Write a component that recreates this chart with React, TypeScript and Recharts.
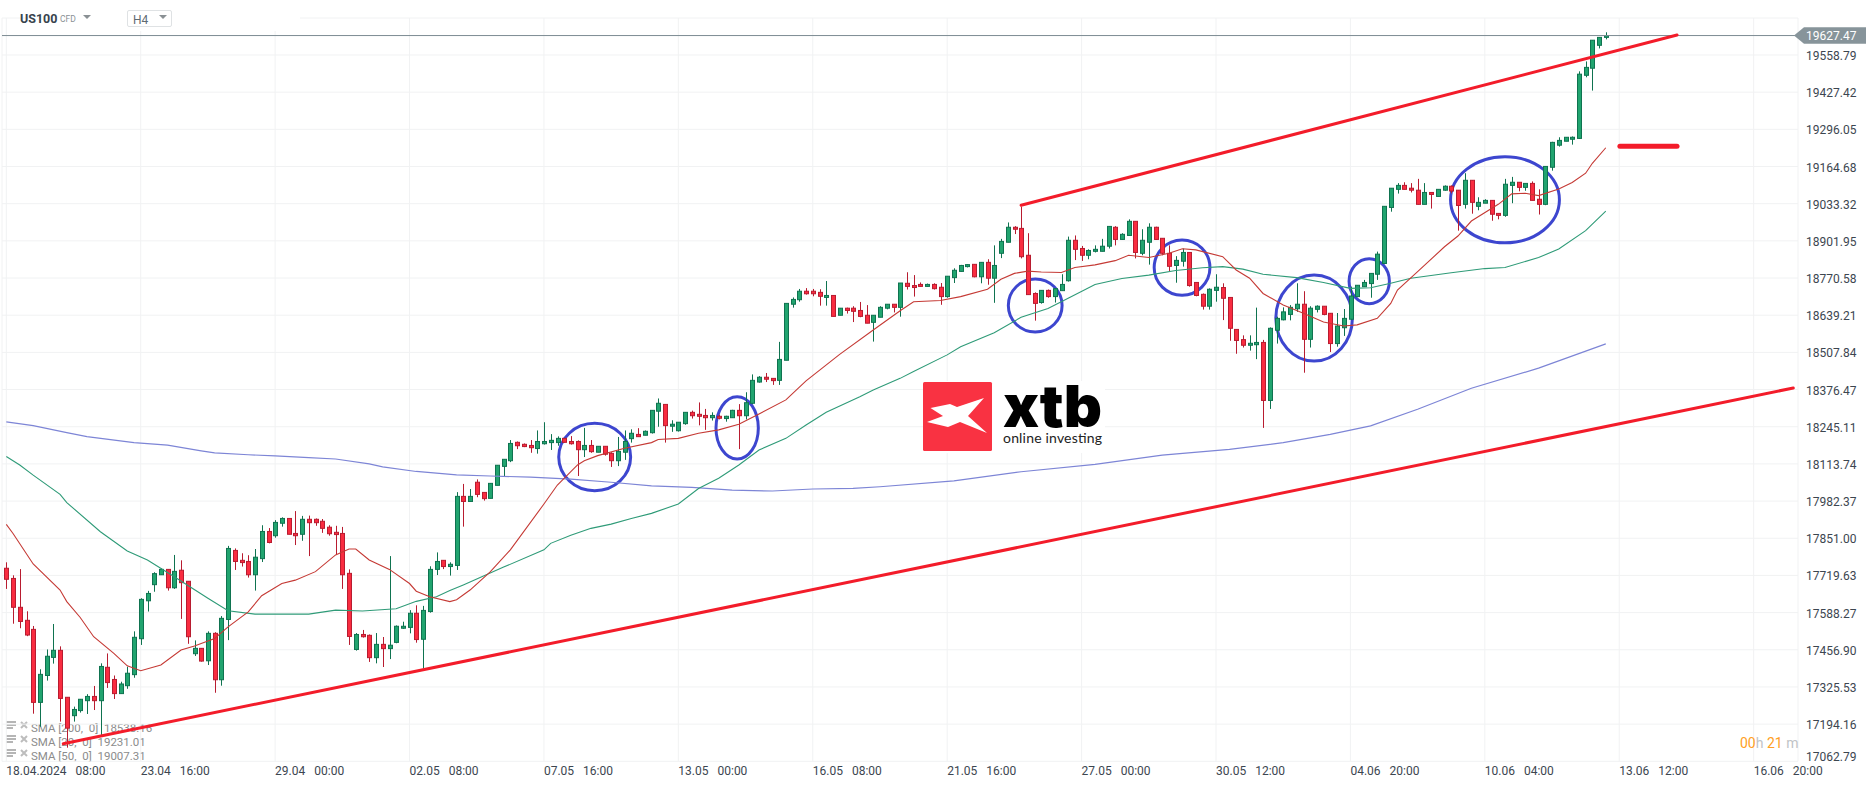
import React from "react";
import { ComposedChart, Bar, Line, XAxis, YAxis, CartesianGrid, ReferenceLine, ReferenceArea } from "recharts";

// [open, high, low, close] per 4h candle
const ohlc: number[][] = [
[17745,17766,17672,17706],[17709,17720,17549,17607],[17607,17742,17533,17557],[17561,17593,17505,17509],[17529,17541,17231,17271],
[17271,17388,17185,17370],[17366,17458,17348,17434],[17430,17548,17408,17455],[17455,17469,17203,17285],[17289,17289,17111,17180],
[17224,17256,17203,17246],[17242,17283,17235,17282],[17277,17300,17230,17292],[17292,17329,17244,17277],[17277,17409,17156,17398],
[17395,17444,17322,17341],[17352,17366,17283,17302],[17302,17344,17302,17336],[17330,17397,17319,17374],[17369,17522,17358,17501],
[17496,17639,17474,17635],[17630,17665,17592,17656],[17687,17731,17662,17726],[17722,17745,17722,17741],[17741,17741,17666,17676],
[17676,17792,17672,17734],[17738,17773,17566,17694],[17699,17699,17478,17503],[17443,17490,17435,17462],[17462,17463,17415,17417],
[17418,17522,17403,17515],[17515,17519,17305,17351],[17351,17576,17330,17568],[17564,17824,17491,17815],[17808,17815,17739,17769],
[17773,17798,17751,17765],[17769,17791,17712,17722],[17722,17813,17666,17784],[17779,17897,17767,17875],[17875,17887,17833,17836],
[17860,17915,17853,17907],[17904,17925,17892,17921],[17921,17921,17865,17865],[17868,17947,17827,17860],[17865,17930,17842,17918],
[17918,17931,17788,17906],[17918,17921,17895,17906],[17911,17919,17870,17886],[17890,17897,17860,17867],[17872,17895,17792,17864],
[17868,17891,17672,17722],[17727,17741,17474,17504],[17458,17516,17454,17511],[17511,17527,17500,17503],[17508,17511,17414,17429],
[17429,17516,17409,17476],[17476,17502,17396,17461],[17461,17788,17424,17473],[17483,17543,17480,17540],[17533,17556,17531,17540],
[17536,17597,17515,17586],[17586,17614,17482,17493],[17494,17612,17391,17596],[17592,17752,17588,17741],[17741,17801,17721,17769],
[17773,17773,17742,17751],[17751,17766,17719,17759],[17755,18014,17739,17999],[17999,18043,17892,17981],[17981,18025,17981,17999],
[18049,18059,17996,18006],[18013,18013,17984,17991],[17992,18045,17992,18045],[18038,18109,18038,18109],[18105,18130,18069,18130],
[18125,18198,18120,18186],[18190,18193,18166,18178],[18183,18186,18173,18175],[18179,18198,18153,18171],[18168,18232,18150,18193],
[18185,18261,18182,18193],[18189,18219,18163,18197],[18189,18211,18178,18204],[18204,18204,18189,18190],[18193,18212,18182,18185],
[18193,18197,18071,18164],[18164,18241,18138,18179],[18179,18198,18153,18157],[18155,18176,18155,18176],[18176,18176,18143,18148],
[18151,18155,18103,18125],[18125,18209,18106,18158],[18155,18232,18128,18193],[18203,18236,18189,18222],[18218,18240,18210,18210],
[18215,18232,18215,18229],[18224,18303,18221,18303],[18300,18345,18245,18328],[18324,18324,18189,18249],[18247,18268,18227,18254],
[18231,18261,18228,18261],[18256,18296,18252,18296],[18296,18302,18274,18284],[18289,18331,18250,18282],[18285,18308,18234,18277],
[18277,18296,18267,18285],[18282,18288,18271,18275],[18274,18284,18263,18282],[18277,18305,18277,18303],[18303,18325,18166,18284],
[18284,18367,18271,18330],[18328,18430,18325,18409],[18403,18424,18401,18420],[18420,18435,18403,18413],[18416,18417,18393,18408],
[18409,18545,18393,18483],[18480,18681,18480,18681],[18678,18702,18666,18695],[18694,18732,18687,18724],[18724,18735,18712,18715],
[18724,18732,18706,18715],[18720,18731,18673,18706],[18702,18760,18673,18709],[18709,18709,18635,18635],[18639,18664,18639,18664],
[18664,18666,18645,18656],[18664,18671,18615,18653],[18656,18686,18632,18635],[18639,18675,18611,18611],[18614,18639,18546,18639],
[18632,18671,18632,18667],[18664,18678,18660,18678],[18678,18678,18649,18667],[18667,18753,18634,18753],[18752,18791,18730,18741],
[18744,18781,18705,18737],[18748,18755,18740,18741],[18741,18751,18740,18748],[18748,18752,18730,18733],[18738,18753,18676,18705],
[18705,18777,18701,18777],[18772,18805,18753,18798],[18794,18817,18793,18815],[18811,18820,18808,18818],[18819,18820,18773,18775],
[18775,18826,18752,18826],[18826,18837,18747,18770],[18770,18886,18683,18815],[18858,18909,18841,18900],[18897,18967,18897,18950],
[18950,18954,18926,18943],[18946,19023,18840,18846],[18851,18929,18712,18712],[18716,18720,18620,18681],[18684,18728,18680,18727],
[18727,18730,18701,18705],[18705,18734,18684,18733],[18726,18784,18726,18748],[18761,18917,18758,18904],[18904,18921,18834,18872],
[18875,18884,18831,18851],[18851,18872,18837,18868],[18865,18886,18861,18872],[18865,18909,18865,18883],[18883,18954,18875,18953],
[18950,18954,18886,18907],[18907,18929,18906,18925],[18921,18978,18920,18971],[18971,18971,18840,18861],[18858,18943,18851,18904],
[18897,18964,18818,18950],[18950,18952,18905,18907],[18911,18911,18851,18858],[18858,18886,18795,18812],[18815,18848,18754,18833],
[18830,18875,18811,18861],[18861,18861,18740,18744],[18755,18755,18706,18709],[18713,18716,18659,18671],[18671,18734,18659,18731],
[18727,18784,18687,18738],[18737,18752,18622,18699],[18702,18702,18549,18593],[18589,18589,18503,18550],[18553,18568,18525,18533],
[18533,18568,18514,18540],[18535,18666,18484,18543],[18543,18552,18241,18338],[18338,18596,18308,18593],[18586,18634,18539,18628],
[18623,18667,18621,18651],[18642,18675,18621,18667],[18662,18752,18651,18678],[18678,18724,18436,18554],[18554,18671,18525,18664],
[18660,18674,18649,18671],[18671,18671,18639,18642],[18646,18647,18509,18539],[18539,18647,18528,18601],[18595,18661,18566,18628],
[18625,18740,18622,18707],[18705,18745,18705,18745],[18740,18764,18740,18755],[18751,18787,18701,18787],[18784,18864,18764,18855],
[18822,19024,18822,19024],[19020,19088,19005,19088],[19084,19106,19069,19098],[19098,19109,19084,19084],[19088,19106,19073,19081],
[19081,19121,19031,19031],[19031,19106,19031,19073],[19073,19073,19016,19066],[19059,19084,19059,19084],[19081,19098,19079,19095],
[19095,19098,19070,19078],[19081,19081,18938,19027],[19031,19141,19016,19116],[19116,19116,18998,19038],[19024,19056,19010,19038],
[19035,19049,19035,19045],[19045,19045,18973,18996],[18999,18999,18978,18992],[18992,19121,18987,19102],[19098,19128,19035,19109],
[19109,19109,19077,19091],[19091,19105,19079,19105],[19105,19112,19045,19045],[19049,19084,18995,19031],[19031,19165,19028,19165],
[19162,19252,19150,19250],[19240,19268,19235,19257],[19254,19268,19254,19268],[19261,19271,19242,19268],[19264,19501,19262,19491],
[19487,19536,19480,19515],[19512,19611,19433,19611],[19593,19621,19582,19621],[19621,19639,19614,19627],
];

// moving-average readings as [candle index, value]
const sma200: number[][] = [[0,18262],[4,18249],[9,18224],[12,18210],[19,18189],[24,18180],[29,18160],[31,18153],[36,18146],[40,18142],[45,18136],[49,18131],[54,18114],[56,18103],[61,18087],[67,18075],[72,18071],[78,18067],[84,18060],[90,18049],[96,18036],[102,18031],[108,18021],[114,18018],[120,18025],[126,18027],[130,18033],[141,18054],[151,18086],[162,18112],[172,18145],[182,18165],[190,18189],[197,18218],[203,18248],[210,18307],[218,18381],[228,18452],[238,18538]];
const sma20: number[][] = [[0,17900],[1,17868],[4,17760],[8,17668],[9,17627],[11,17571],[13,17503],[16,17444],[18,17400],[20,17383],[23,17403],[26,17456],[28,17470],[31,17497],[33,17538],[36,17591],[38,17648],[41,17691],[43,17703],[46,17733],[49,17792],[51,17813],[52,17813],[54,17774],[57,17741],[60,17691],[61,17664],[63,17644],[66,17627],[67,17634],[69,17668],[72,17732],[75,17810],[80,17972],[82,18039],[85,18110],[86,18125],[88,18143],[92,18169],[96,18189],[97,18200],[100,18204],[103,18222],[106,18234],[109,18254],[112,18290],[116,18340],[119,18407],[124,18501],[129,18587],[133,18655],[135,18687],[139,18691],[142,18705],[146,18731],[148,18766],[150,18787],[152,18795],[154,18792],[157,18790],[159,18808],[162,18817],[165,18832],[167,18851],[170,18843],[173,18858],[175,18874],[177,18870],[181,18846],[183,18799],[185,18770],[187,18716],[190,18675],[193,18646],[196,18615],[199,18601],[201,18605],[204,18628],[206,18681],[207,18728],[210,18793],[214,18881],[216,18919],[218,18972],[222,19031],[224,19068],[226,19070],[228,19062],[231,19085],[233,19108],[235,19141],[236,19176],[238,19231]];
const sma50: number[][] = [[0,18140],[2,18110],[4,18074],[8,18006],[9,17977],[14,17874],[18,17806],[21,17774],[25,17715],[30,17639],[33,17595],[37,17583],[45,17583],[49,17597],[53,17594],[58,17602],[61,17628],[64,17644],[66,17666],[68,17686],[74,17749],[80,17810],[81,17833],[84,17862],[87,17886],[90,17901],[93,17921],[96,17939],[100,17972],[103,18027],[106,18063],[109,18110],[112,18163],[116,18204],[119,18251],[122,18296],[127,18351],[129,18375],[133,18416],[135,18440],[140,18499],[142,18528],[147,18577],[151,18632],[155,18663],[158,18699],[162,18748],[166,18769],[170,18781],[174,18797],[178,18807],[181,18811],[184,18802],[187,18784],[192,18772],[196,18755],[200,18734],[203,18736],[206,18752],[209,18770],[215,18789],[220,18804],[223,18808],[228,18843],[231,18873],[235,18938],[238,19007]];

const priceTicks = [17062.79,17194.16,17325.53,17456.90,17588.27,17719.63,17851.00,17982.37,18113.74,18245.11,18376.47,18507.84,18639.21,18770.58,18901.95,19033.32,19164.68,19296.05,19427.42,19558.79];
const timeTicks = [0,20,40,60,80,100,120,140,160,180,200,220,240,260];
const tickDates = ["18.04.2024","23.04","29.04","02.05","07.05","13.05","16.05","21.05","27.05","30.05","04.06","10.06","13.06","16.06"];
const tickTimes = ["08:00","16:00","00:00","08:00","16:00","00:00","08:00","16:00","00:00","12:00","20:00","04:00","12:00","20:00"];

const lastPrice = 19627.47;
// drawn trend lines: [index, price] ends
const lowerTrend = [[8.48,17125],[265.9,18382]];
const upperTrend = [[151,19027.6],[248.6,19629.5]];
const targetMark = [[240.1,19236],[248.6,19236]];
// hand-drawn ellipses: [i1, i2, priceLow, priceHigh]
const ellipses = [
  [82.2,92.9,18019,18257],[105.6,111.9,18131,18351],[149.1,157.1,18580,18767],[170.8,179.1,18710,18905],
  [188.9,200.3,18477,18781],[199.8,205.8,18680,18839],[214.9,231.1,18895,19199],
];
const smaLegend = ["SMA [200,  0]  18538.16","SMA [20,  0]  19231.01","SMA [50,  0]  19007.31"];

const lookup = (k: number[][]) => new Map(k.map(([i, v]) => [i, v]));
const m200 = lookup(sma200), m20 = lookup(sma20), m50 = lookup(sma50);
const rows = ohlc.map(([o, h, l, c], i) => ({ i, o, h, l, c, range: [l, h], s200: m200.get(i), s20: m20.get(i), s50: m50.get(i) }));

const FONT = "Roboto, sans-serif";
const GREEN = "#21a46f", GREEN_D = "#0f7350", RED = "#f92c40", RED_D = "#b81c30";

const Candle = (p: any) => {
  const { x, y, width, height, payload } = p;
  const { o, h, l, c } = payload;
  const up = c >= o;
  const k = h > l ? height / (h - l) : 0;
  const cx = Math.round(x + width / 2) + 0.5;
  const top = y + (h - Math.max(o, c)) * k;
  const bot = y + (h - Math.min(o, c)) * k;
  return (
    <g>
      <line x1={cx} x2={cx} y1={y} y2={y + height} stroke={up ? GREEN_D : RED_D} strokeWidth={1} />
      <rect x={cx - 2} y={top} width={4} height={Math.max(bot - top, 1)} fill={up ? GREEN : RED} stroke={up ? GREEN_D : RED_D} strokeWidth={1} />
    </g>
  );
};

const Ell = (p: any) => (
  <ellipse cx={p.x + p.width / 2} cy={p.y + p.height / 2} rx={p.width / 2} ry={p.height / 2} fill="none" stroke="#3d46cf" strokeWidth={3} />
);

const TimeTick = (p: any) => {
  const idx = timeTicks.indexOf(p.payload.value);
  return (
    <text x={p.x} y={775} fontFamily={FONT} fontSize={12} fill="#3c4650">
      {tickDates[idx]}
      <tspan dx={9}>{tickTimes[idx]}</tspan>
    </text>
  );
};

const PriceAxisTick = (p: any) => {
  const v = p.payload.value;
  const base = v === priceTicks[0] ? p.y : p.y + 5;
  return (
    <text x={1806} y={base} fontFamily={FONT} fontSize={12} fill="#3c4650">{v.toFixed(2)}</text>
  );
};

const PriceTag = (p: any) => {
  const y = p.viewBox.y;
  return (
    <g>
      <polygon points={`1794,${y} 1804,${y - 8.3} 1866,${y - 8.3} 1866,${y + 8.3} 1804,${y + 8.3}`} fill="#87949a" />
      <text x={1806} y={y + 4.5} fontFamily={FONT} fontSize={12} fill="#fff">{lastPrice.toFixed(2)}</text>
    </g>
  );
};

const Caret = ({ x, y }: { x: number; y: number }) => (
  <div style={{ position: "absolute", left: x, top: y, width: 0, height: 0, borderLeft: "4px solid transparent", borderRight: "4px solid transparent", borderTop: "4px solid #8a9094" }} />
);

const seg = (t: number[][]) => [{ x: t[0][0], y: t[0][1] }, { x: t[1][0], y: t[1][1] }];

export default function App() {
  return (
    <div style={{ position: "absolute", left: 0, top: 0, width: 1866, height: 787, overflow: "hidden", background: "#fff", fontFamily: FONT }}>
      {/* SMA legend sits below the chart layer */}
      <svg width={170} height={50} style={{ position: "absolute", left: 0, top: 716 }}>
        {smaLegend.map((t, r) => (
          <g key={t} transform={`translate(0,${r * 14})`}>
            <rect x={6} y={5} width={10} height={2} fill="#b5b5b5" />
            <rect x={6} y={8} width={10} height={2} fill="#b5b5b5" />
            <rect x={6} y={11} width={7} height={2} fill="#b5b5b5" />
            <path d="M21 6 L27 12 M27 6 L21 12" stroke="#bdbdbd" strokeWidth={2} />
            <text x={31} y={16} fontFamily={FONT} fontSize={11.5} fill="#8c8c8c" style={{ whiteSpace: "pre" }}>{t}</text>
          </g>
        ))}
      </svg>
      <div style={{ position: "absolute", left: 0, top: 0 }}>
        <ComposedChart width={1866} height={787} data={rows} margin={{ top: 18, right: 0, bottom: 0, left: 2 }}>
          <CartesianGrid stroke="#f1f2f3" strokeWidth={1} />
          <XAxis dataKey="i" type="number" domain={[-0.64, 266.6]} allowDataOverflow ticks={timeTicks} interval={0} height={25.7} axisLine={false} tickLine={false} tick={<TimeTick />} />
          <YAxis orientation="right" type="number" domain={[17062.79, 19689.5]} allowDataOverflow ticks={priceTicks} interval={0} width={68} axisLine={false} tickLine={false} tick={<PriceAxisTick />} />
          <ReferenceLine y={lastPrice} stroke="#7c8b92" strokeWidth={1} label={<PriceTag />} />
          <Bar dataKey="range" barSize={5} shape={<Candle />} isAnimationActive={false} />
          <Line dataKey="s200" stroke="#7d85d6" strokeWidth={1.2} dot={false} connectNulls isAnimationActive={false} />
          <Line dataKey="s50" stroke="#2f9b78" strokeWidth={1.1} dot={false} connectNulls isAnimationActive={false} />
          <Line dataKey="s20" stroke="#c53a35" strokeWidth={1.1} dot={false} connectNulls isAnimationActive={false} />
          <ReferenceLine segment={seg(lowerTrend)} stroke="#f31c2a" strokeWidth={3} strokeLinecap="round" />
          <ReferenceLine segment={seg(upperTrend)} stroke="#f31c2a" strokeWidth={3} strokeLinecap="round" />
          <ReferenceLine segment={seg(targetMark)} stroke="#f31c2a" strokeWidth={5} strokeLinecap="round" />
          {ellipses.map(([a, b, lo, hi], n) => (
            <ReferenceArea key={n} x1={a} x2={b} y1={lo} y2={hi} shape={<Ell />} />
          ))}
        </ComposedChart>
      </div>

      {/* header */}
      <div style={{ position: "absolute", left: 30, top: 0, width: 270, height: 31, background: "#fff" }} />
      <div style={{ position: "absolute", left: 20, top: 10, fontSize: 12.5, fontWeight: 700, color: "#37434d", lineHeight: "18px" }}>US100</div>
      <div style={{ position: "absolute", left: 60, top: 13, fontSize: 8.5, color: "#8a9094", lineHeight: "12px" }}>CFD</div>
      <Caret x={83} y={15} />
      <div style={{ position: "absolute", left: 127, top: 10, width: 43, height: 15, border: "1px solid #dfe2e4", borderRadius: 2 }} />
      <div style={{ position: "absolute", left: 133, top: 13, fontSize: 12, color: "#5f6b73", lineHeight: "14px" }}>H4</div>
      <Caret x={159} y={15} />

      {/* timer */}
      <div style={{ position: "absolute", left: 1740, top: 734, fontSize: 14, lineHeight: "18px", whiteSpace: "pre", color: "#bfc3c6" }}>
        <span style={{ color: "#ffa024" }}>00</span>h <span style={{ color: "#ffa024" }}>21</span> m
      </div>

      {/* logo */}
      <svg width={182} height={72} viewBox="0 0 182 72" style={{ position: "absolute", left: 923, top: 381, background: "#fff" }}>
        <rect x={0} y={1} width={69} height={69} rx={1.5} fill="#f93242" />
        <polygon fill="#fff" points="7.5,27 27,23 34,26 61,17 45,35 64,52 37,41 25,46 4,41 20,35" />
        <text x={80} y={46} fontFamily="Inter, Roboto, sans-serif" fontSize={58} fontWeight={900} fill="#000" textLength={99} lengthAdjust="spacingAndGlyphs">xtb</text>
        <text x={80} y={62} fontFamily="Lato, Roboto, sans-serif" fontSize={14} fontWeight={400} fill="#222" textLength={99}>online investing</text>
      </svg>
    </div>
  );
}
